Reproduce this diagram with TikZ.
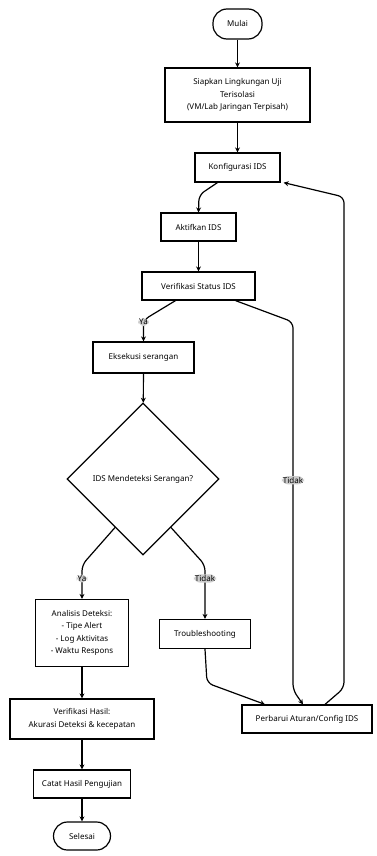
\documentclass[tikz,border=0pt]{standalone}
\usepackage{fontspec}
\setmainfont{Noto Sans}
\usepackage{tikz}
\usetikzlibrary{shapes.geometric,arrows.meta}

\begin{document}
\begin{tikzpicture}[x=1pt, y=-1pt,
    box/.style = {draw, line width=1.2pt, align=center, inner sep=2pt, font=\fontsize{8}{12.5}\selectfont},
    term/.style = {box, rounded corners=14pt},
    arr/.style = {line width=1.2pt, rounded corners=6pt, -{Stealth[length=5pt,width=5pt]}},
    lbl/.style = {fill=gray!40, inner sep=1pt, font=\fontsize{8}{9}\selectfont}]
    \useasboundingbox (0,0) rectangle (377,856);

    % main column
    \node[term, minimum width=49pt, minimum height=30pt] (mulai) at (237.5,24) {Mulai};
    \node[box, minimum width=145pt, minimum height=54pt] (siapkan) at (237.5,95)
        {Siapkan Lingkungan Uji\\Terisolasi\\(VM/Lab Jaringan Terpisah)};
    \node[box, minimum width=85pt, minimum height=29pt] (konfig) at (237.5,167.5) {Konfigurasi IDS};
    \node[box, minimum width=75pt, minimum height=28pt] (aktif) at (198.5,227) {Aktifkan IDS};
    \node[box, minimum width=113pt, minimum height=28pt] (verstatus) at (198.5,286) {Verifikasi Status IDS};
    \node[box, minimum width=101pt, minimum height=31pt] (eksekusi) at (143.5,357.5) {Eksekusi serangan};
    \node[box, shape=diamond, minimum width=152pt, minimum height=152pt, inner sep=0pt] (deteksi) at (143,479)
        {IDS Mendeteksi Serangan?};

    % cabang
    \node[box, minimum width=93pt, minimum height=67pt] (analisis) at (82,633)
        {Analisis Deteksi:\\- Tipe Alert\\- Log Aktivitas\\- Waktu Respons};
    \node[box, minimum width=91pt, minimum height=29pt] (trouble) at (205,634) {Troubleshooting};
    \node[box, minimum width=144pt, minimum height=40pt] (verhasil) at (82,719)
        {Verifikasi Hasil:\\Akurasi Deteksi \& kecepatan};
    \node[box, minimum width=97pt, minimum height=28pt] (catat) at (82,784) {Catat Hasil Pengujian};
    \node[term, minimum width=57pt, minimum height=28pt] (selesai) at (82,836) {Selesai};
    \node[box, minimum width=130pt, minimum height=28pt] (perbarui) at (307,719) {Perbarui Aturan/Config IDS};

    \draw[arr] (mulai) -- (siapkan);
    \draw[arr] (siapkan) -- (konfig);
    \draw[arr] ([xshift=-20pt]konfig.south) -- (199,195) -- (aktif.north);
    \draw[arr] (aktif) -- (verstatus);
    \draw[arr] ([xshift=-23pt]verstatus.south) -- (143.5,320) -- (eksekusi.north)
        node[lbl, pos=0.1] {Ya};
    \draw[arr] ([xshift=37pt]verstatus.south) -- (293,322) -- (293,690)
        node[lbl, pos=0.43] {Tidak} -- ([xshift=-4pt]perbarui.north);
    \draw[arr] (eksekusi) -- (deteksi);
    \draw[arr] (deteksi.-120) -- (82,565) -- (analisis.north)
        node[lbl, pos=0.4] {Ya};
    \draw[arr] (deteksi.-60) -- (205,565) -- (trouble.north)
        node[lbl, pos=0.25] {Tidak};
    \draw[arr] (trouble.south) -- (207,683) -- ([xshift=-42pt]perbarui.north);
    \draw[arr] ([xshift=18pt]perbarui.north) -- (344,688) -- (344,197) -- ([xshift=3pt]konfig.south east);
    \draw[arr] (analisis) -- (verhasil);
    \draw[arr] (verhasil) -- (catat);
    \draw[arr] (catat) -- (selesai);
\end{tikzpicture}
\end{document}
